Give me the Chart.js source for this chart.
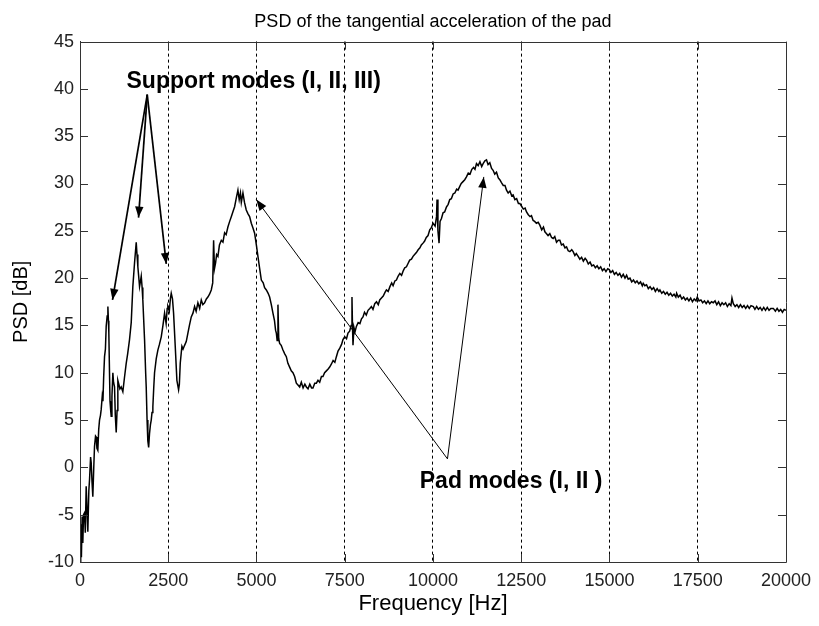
<!DOCTYPE html>
<html><head><meta charset="utf-8">
<script src="https://cdn.jsdelivr.net/npm/chart.js@4.4.0/dist/chart.umd.min.js"></script>
<style>html,body{margin:0;padding:0;background:#fff;}</style>
</head><body>
<canvas id="c" width="819" height="626"></canvas>
<script>
// ---- data ----
const freqHz = [
0,20,40,60,80,100,127,150,175,200,222,250,270,300,317,340,363,390,411,440,459,480,505,530,553,580,600,630,650,670,695,720,742,770,790,805,817,836,850,870,884,905,931,950,978,1000,1026,1050,1072,1100,1130,1167,1214,1260,1309,1350,1403,1451,1497,1545,1593,1615,1639,1660,1687,1710,1735,1760,1780,1829,1860,1876,1900,1922,1945,1970,1995,2018,2040,2064,2090,2112,2160,2206,2250,2302,2350,2396,2440,2470,2489,2530,2560,2585,2620,2651,2698,2745,2793,2815,2840,2887,2920,2963,3010,3057,3100,3152,3200,3246,3290,3340,3390,3436,3480,3530,3580,3623,3670,3719,3760,3785,3810,3841,3870,3907,3950,4003,4050,4097,4140,4190,4240,4286,4330,4380,4430,4474,4510,4545,4570,4616,4660,4710,4760,4805,4853,4900,4947,5000,5041,5090,5137,5190,5230,5279,5330,5372,5420,5466,5510,5540,5562,5585,5608,5630,5656,5700,5750,5800,5845,5890,5939,5985,6033,6080,6129,6175,6223,6270,6320,6370,6413,6460,6510,6560,6600,6650,6696,6742,6790,6840,6883,6930,6980,7030,7073,7120,7170,7220,7263,7310,7360,7410,7450,7500,7550,7592,7640,7680,7705,7720,7734,7760,7790,7830,7880,7930,7975,8017,8060,8110,8160,8210,8255,8300,8350,8400,8450,8491,8540,8590,8640,8681,8730,8780,8830,8870,8920,8964,9010,9060,9110,9160,9200,9248,9300,9340,9390,9435,9480,9530,9580,9630,9670,9718,9760,9810,9860,9908,9950,10002,10060,10100,10115,10140,10172,10200,10240,10285,10330,10380,10430,10475,10520,10570,10620,10670,10710,10759,10800,10850,10900,10948,11000,11050,11100,11150,11190,11232,11280,11330,11380,11420,11470,11516,11560,11610,11660,11703,11750,11800,11850,11893,11940,11990,12040,12083,12130,12180,12230,12270,12320,12370,12420,12460,12510,12560,12610,12650,12700,12750,12790,12837,12880,12930,12980,13027,13080,13130,13170,13217,13260,13310,13360,13404,13450,13500,13550,13594,13640,13690,13740,13784,13830,13878,13930,13971,14020,14060,14113,14160,14210,14260,14310,14351,14400,14450,14500,14550,14600,14650,14700,14750,14800,14850,14900,14950,14992,15040,15090,15140,15190,15240,15290,15340,15390,15440,15485,15530,15580,15630,15680,15730,15780,15830,15880,15930,15956,16000,16050,16100,16150,16200,16250,16300,16350,16400,16429,16480,16530,16580,16630,16680,16730,16780,16830,16880,16902,16950,17000,17050,17100,17150,17200,17250,17300,17350,17400,17450,17487,17540,17590,17640,17690,17740,17790,17840,17890,17941,17990,18040,18090,18140,18190,18240,18290,18340,18390,18440,18470,18508,18560,18610,18660,18710,18760,18810,18860,18910,18960,19010,19075,19120,19170,19220,19270,19320,19370,19420,19470,19520,19570,19642,19700,19750,19800,19850,19900,19950,20000
];
const psdDb = [
-10,-6,-9.5,-5.2,-8,-5,-4.8,-6.9,-2,-4.5,-6.8,-2.5,-1.3,1.1,0.5,-1.5,-3.1,0,2.2,3.3,3.2,2.0,1.8,4,5.0,5.5,6.1,7.5,7.0,9.5,11.7,12.5,14.9,16.0,17.0,15.5,14.2,10.0,7.0,6.0,5.4,7.5,10.0,9.0,8.5,5.5,3.7,6.0,9.2,8.8,8.3,8.5,8.0,9.5,11.0,12.0,13.5,15.3,19.1,21.6,23.8,22.5,21.2,20.3,19.1,19.6,20.2,19.0,17.7,13.5,10.0,8.5,5.0,2.8,2.1,3.6,4.5,5.0,5.8,6.4,8.5,10.0,11.5,12.4,13.0,13.8,15.0,16.3,15.2,16.8,17.0,16.5,17.8,18.4,17.8,16.3,12.8,9.2,8.2,8.8,11.0,12.8,12.5,12.9,13.3,14.2,15.0,15.9,16.3,17.0,16.5,17.4,16.8,17.7,17.2,17.4,17.8,18.0,18.3,18.75,19.5,24.0,21.0,21.6,22.5,22.3,23.5,24.0,23.8,24.8,24.6,25.4,26.0,26.5,27.0,27.55,28.5,29.3,28.3,29.0,28.0,29.0,28.0,27.2,26.8,26.5,25.8,25.3,24.75,23.4,22.3,21.0,19.8,19.5,19.0,18.75,18.4,18.0,17.2,16.3,15.5,14.5,14.2,13.4,17.2,13.6,13.1,12.9,12.4,12.0,11.7,11.0,10.6,10.2,10.0,9.6,8.9,8.7,8.5,9.0,8.4,8.8,8.5,8.3,8.8,8.4,8.4,8.9,8.9,9.2,9.0,9.6,9.6,10.0,10.2,10.4,10.6,10.9,11.3,11.1,11.7,12.3,12.6,13.0,13.5,13.8,13.6,14.2,14.4,15.0,18.0,14.8,12.9,14.8,14.3,14.9,15.3,15.2,15.7,15.9,16.4,16.1,16.6,16.8,17.0,16.7,17.3,17.5,17.2,17.7,17.9,18.1,18.5,18.75,18.6,19.1,19.5,19.2,19.7,19.8,20.2,20.5,20.3,20.8,21.1,21.2,21.6,21.9,22.0,22.3,22.5,22.7,23.0,23.2,23.5,23.7,23.9,24.3,24.5,25.1,25.3,25.8,25.5,26.5,28.3,25.0,23.7,26.0,26.3,26.9,27.0,27.5,27.8,28.3,28.4,28.9,29.0,29.4,29.3,29.7,30.0,30.2,30.4,30.7,31.1,31.0,31.5,31.7,31.5,32.1,31.9,32.3,31.8,32.1,32.4,32.5,32.0,32.2,31.6,31.4,31.0,31.2,30.6,30.4,30.1,29.8,29.8,29.3,29.0,29.2,28.7,28.8,28.3,28.4,27.9,27.9,27.6,27.3,27.4,27.0,26.7,26.5,26.6,26.1,26.0,25.8,25.9,25.6,25.1,25.4,24.9,24.7,24.5,24.7,24.3,24.2,24.4,23.8,24.0,24.0,23.5,23.6,23.2,23.3,22.9,22.8,23.0,22.8,22.4,22.6,22.3,22.0,22.2,21.8,22.1,21.9,21.5,21.7,21.3,21.4,21.1,21.3,21.0,21.2,20.8,21.0,20.7,21.0,20.9,20.6,20.8,20.4,20.6,20.3,20.5,20.1,20.4,20.0,20.3,19.9,20.0,19.6,19.8,19.5,19.7,19.4,19.6,19.2,19.45,19.2,19.3,18.9,19.1,18.8,19.0,18.6,18.9,18.6,18.75,18.4,18.6,18.3,18.5,18.2,18.4,18.1,18.3,18.0,18.4,18.0,18.2,17.8,18.0,17.7,17.9,17.6,17.9,17.5,17.8,17.6,18.0,17.6,17.7,17.4,17.6,17.3,17.6,17.3,17.5,17.4,17.6,17.2,17.5,17.1,17.4,17.2,17.4,17.0,17.3,17.1,17.9,17.3,17.0,17.2,16.9,17.2,16.9,17.1,16.8,17.1,16.8,17.1,17.0,16.7,17.0,16.7,16.9,16.6,16.9,16.6,16.9,16.6,16.8,16.8,16.5,16.8,16.5,16.7,16.4,16.7,16.6
];
const xTickValues = [0,2500,5000,7500,10000,12500,15000,17500,20000];
const yTickValues = [-10,-5,0,5,10,15,20,25,30,35,40,45];
const supportApex = [1905, 39.4];
const supportTips = [[921,17.7],[1658,26.4],[2444,21.5]];
const padApex = [10410, 0.9];
const padTips = [[4995,28.3],[11439,30.7]];
const supportText = 'Support modes (I, II, III)';
const supportTextAt = [1318, 40.1];
const padText = 'Pad modes (I, II )';
const padTextAt = [9625, -2.2];

const FONT = "'Liberation Sans', Arial, Helvetica, sans-serif";

function arrow(ctx, x0, y0, x1, y1, w) {
  ctx.save();
  ctx.lineWidth = w;
  ctx.strokeStyle = '#000';
  ctx.fillStyle = '#000';
  ctx.beginPath(); ctx.moveTo(x0, y0); ctx.lineTo(x1, y1); ctx.stroke();
  const a = Math.atan2(y1 - y0, x1 - x0);
  const L = 11, H = 4.2;
  ctx.beginPath();
  ctx.moveTo(x1, y1);
  ctx.lineTo(x1 - L*Math.cos(a) + H*Math.sin(a), y1 - L*Math.sin(a) - H*Math.cos(a));
  ctx.lineTo(x1 - L*Math.cos(a) - H*Math.sin(a), y1 - L*Math.sin(a) + H*Math.cos(a));
  ctx.closePath(); ctx.fill();
  ctx.restore();
}

const framePlugin = {
  id: 'frame',
  afterDatasetsDraw(chart) {
    const {ctx, chartArea: a, scales: {x, y}} = chart;
    ctx.save();
    ctx.strokeStyle = '#333';
    ctx.lineWidth = 1;
    ctx.beginPath();
    ctx.rect(Math.round(a.left)+0.5, Math.round(a.top)+0.5, Math.round(a.right - a.left), Math.round(a.bottom - a.top));
    ctx.stroke();
    const T = 8;
    ctx.beginPath();
    xTickValues.forEach(v => {
      const px = Math.round(x.getPixelForValue(v)) + 0.5;
      ctx.moveTo(px, a.bottom); ctx.lineTo(px, a.bottom - T);
      ctx.moveTo(px, a.top); ctx.lineTo(px, a.top + T);
    });
    yTickValues.forEach(v => {
      const py = Math.round(y.getPixelForValue(v)) + 0.5;
      ctx.moveTo(a.left, py); ctx.lineTo(a.left + T, py);
      ctx.moveTo(a.right, py); ctx.lineTo(a.right - T, py);
    });
    ctx.stroke();
    ctx.restore();

    // annotations
    const P = (p) => [x.getPixelForValue(p[0]), y.getPixelForValue(p[1])];
    const sa = P(supportApex);
    supportTips.forEach(t => { const tp = P(t); arrow(ctx, sa[0], sa[1], tp[0], tp[1], 1.7); });
    const pa = P(padApex);
    padTips.forEach(t => { const tp = P(t); arrow(ctx, pa[0], pa[1], tp[0], tp[1], 1); });

    ctx.save();
    ctx.fillStyle = '#000';
    ctx.font = 'bold 23px ' + FONT;
    ctx.textAlign = 'left';
    ctx.textBaseline = 'alphabetic';
    let p = P(supportTextAt); ctx.fillText(supportText, p[0], p[1]);
    p = P(padTextAt); ctx.fillText(padText, p[0], p[1]);
    ctx.restore();
  }
};

const xMin = xTickValues[0], xMax = xTickValues[xTickValues.length - 1];

new Chart(document.getElementById('c'), {
  type: 'line',
  data: {
    datasets: [{
      data: freqHz.map((f, i) => ({x: f, y: psdDb[i]})),
      borderColor: '#000',
      borderWidth: 1.5,
      pointRadius: 0,
      tension: 0,
      fill: false
    }]
  },
  options: {
    responsive: false,
    animation: false,
    parsing: false,
    layout: {padding: {left: 0, right: 33, top: 0, bottom: 0}},
    plugins: {
      legend: {display: false},
      tooltip: {enabled: false},
      title: {
        display: true,
        fullSize: false,
        text: 'PSD of the tangential acceleration of the pad',
        color: '#000',
        font: {family: FONT, size: 18, weight: 'normal'},
        padding: {top: 11, bottom: 9}
      }
    },
    scales: {
      x: {
        type: 'linear', min: xMin, max: xMax,
        afterBuildTicks: s => { s.ticks = xTickValues.map(v => ({value: v})); },
        afterFit: s => { s.height = 64; },
        ticks: {color: '#222', font: {family: FONT, size: 18}, padding: 8, maxRotation: 0, autoSkip: false, callback: v => String(v)},
        grid: {
          display: true, drawTicks: false, lineWidth: 1,
          color: c => (c.tick && (c.tick.value === xMin || c.tick.value === xMax)) ? 'rgba(0,0,0,0)' : '#000'
        },
        border: {display: true, color: '#333', width: 1, dash: [3, 3]},
        title: {display: true, text: 'Frequency [Hz]', color: '#000', font: {family: FONT, size: 22}, padding: {top: 0, bottom: 9}}
      },
      y: {
        type: 'linear', min: -10, max: 45,
        afterBuildTicks: s => { s.ticks = yTickValues.map(v => ({value: v})); },
        afterFit: s => { s.width = 80; },
        ticks: {color: '#222', font: {family: FONT, size: 18}, padding: 6, autoSkip: false, callback: v => String(v)},
        grid: {display: false, drawTicks: false},
        border: {display: true, color: '#333', width: 1},
        title: {display: true, text: 'PSD [dB]', color: '#000', font: {family: FONT, size: 20}, padding: {top: 9, bottom: 0}}
      }
    }
  },
  plugins: [framePlugin]
});
</script>
</body></html>
